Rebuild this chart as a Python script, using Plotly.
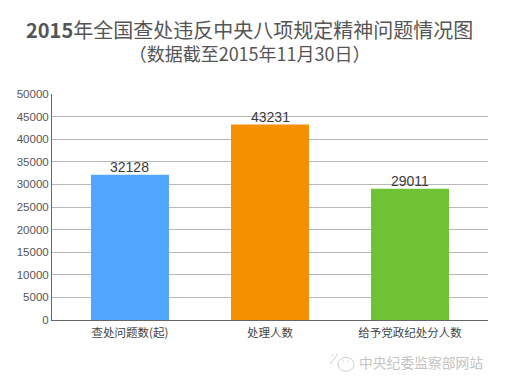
import plotly.graph_objects as go

title_main = "2015年全国查处违反中央八项规定精神问题情况图"
title_sub = "（数据截至2015年11月30日）"
watermark = "中央纪委监察部网站"
categories = ["查处问题数(起)", "处理人数", "给予党政纪处分人数"]
values = [32128, 43231, 29011]
colors = ["#53A6FF", "#F59100", "#70C235"]
tick_values = [0, 5000, 10000, 15000, 20000, 25000, 30000, 35000, 40000, 45000, 50000]

CJK = "Noto Sans CJK SC, Liberation Sans, sans-serif"
NUM = "Liberation Sans, Noto Sans CJK SC, sans-serif"

# the page body adds an 8px offset
OX, OY = 8, 8
PL, PR, PT, PB = 52, 488, 93.5, 320.5

fig = go.Figure(go.Bar(
    x=categories, y=values, width=0.557,
    marker=dict(color=colors, line=dict(width=0)),
    hoverinfo="x+y",
))
fig.update_layout(
    width=498, height=384, autosize=False,
    margin=dict(l=PL - OX, r=498 - (PR - OX), t=PT - OY, b=384 - (PB - OY), pad=0, autoexpand=False),
    paper_bgcolor="white", plot_bgcolor="white", showlegend=False,
    font=dict(family=CJK),
    xaxis=dict(type="category", range=[-0.557, 2.557], showline=True, linecolor="#666666",
               linewidth=1, ticks="", showgrid=False, ticklabelstandoff=2, automargin=False,
               tickfont=dict(family=CJK, size=11.5, color="#444444")),
    yaxis=dict(range=[0, 50000], tickvals=tick_values, tickformat="d", showline=True,
               linecolor="#666666", linewidth=1, gridcolor="#b8b8b8", gridwidth=1, ticks="",
               zeroline=False, ticksuffix="\u00a0\u00a0\u00a0", automargin=False,
               tickfont=dict(family=NUM, size=11.5, color="#555555")),
)

def paper_x(px):
    return (px - PL) / (PR - PL)

def paper_y(py):
    return (PB - py) / (PB - PT)

for cat, val in zip(categories, values):
    fig.add_annotation(text=str(val), x=cat, y=val, xref="x", yref="y", showarrow=False,
                       yanchor="bottom", yshift=-2,
                       font=dict(family=NUM, size=14, color="#3a3a3a"))

def page_text(text, px, py, size, color):
    fig.add_annotation(text=text, xref="paper", yref="paper", x=paper_x(px), y=paper_y(py),
                       xanchor="center", yanchor="middle", showarrow=False,
                       font=dict(family=CJK, size=size, color=color))

heading = ("<span style='font-size:20px'>" + title_main.replace("2015", "<b>2015</b>", 1) + "</span>"
           "<br>" + title_sub)
page_text(heading, 249, 40, 18, "#555555")
page_text(watermark, 421, 363, 13.8, "#c4c4c4")

# watermark icon
ICON = "#cfcfcf"
fig.add_shape(type="circle", xref="paper", yref="paper",
              x0=paper_x(338), x1=paper_x(354), y0=paper_y(372), y1=paper_y(358),
              line=dict(color=ICON, width=1))
fig.add_shape(type="line", xref="paper", yref="paper",
              x0=paper_x(330), x1=paper_x(337), y0=paper_y(365), y1=paper_y(356),
              line=dict(color=ICON, width=1))
for dx, dy in [(333, 356), (337, 355), (343, 362), (348, 362)]:
    fig.add_shape(type="circle", xref="paper", yref="paper",
                  x0=paper_x(dx - 0.8), x1=paper_x(dx + 0.8), y0=paper_y(dy + 0.8), y1=paper_y(dy - 0.8),
                  fillcolor=ICON, line=dict(width=0))
fig.write_html("out.html")
